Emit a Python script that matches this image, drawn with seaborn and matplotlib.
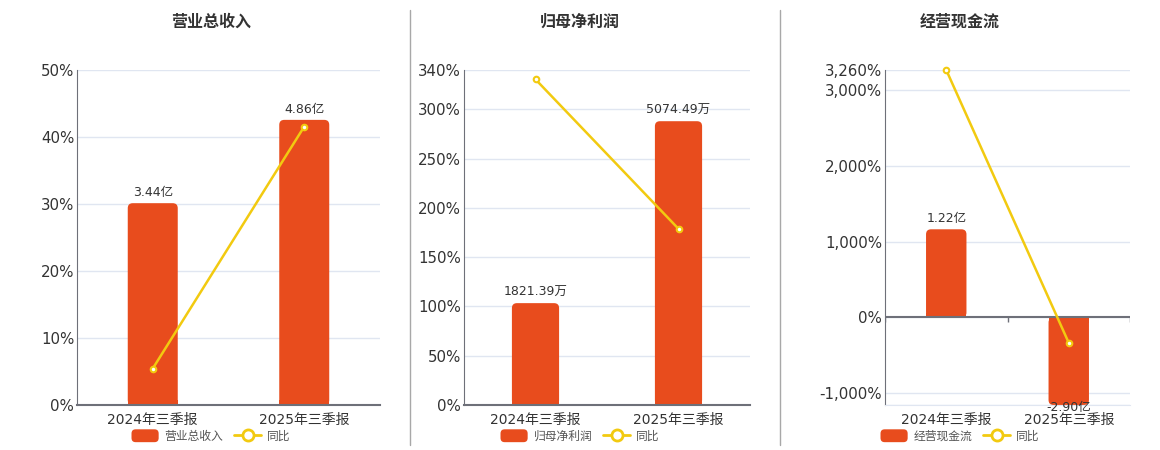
import numpy as np
import matplotlib
matplotlib.use("Agg")
import matplotlib.pyplot as plt
import seaborn as sns
from matplotlib.patches import FancyBboxPatch, Rectangle
from matplotlib.lines import Line2D
from matplotlib.legend_handler import HandlerPatch
from matplotlib.ticker import FuncFormatter
from matplotlib.transforms import IdentityTransform

# ---- data ----
periods = ["2024年三季报", "2025年三季报"]

titles = ["营业总收入", "归母净利润", "经营现金流"]
units = ["亿", "万", "亿"]

revenue = [3.44, 4.86]          # 亿
revenue_yoy = [5.44, 41.56]     # %

profit = [1821.39, 5074.49]     # 万
profit_yoy = [330.5, 178.8]     # %

cashflow = [1.22, -2.90]        # 亿
cashflow_yoy = [3259.8, -334.0] # %

bar_values = [revenue, profit, cashflow]
yoy_values = [revenue_yoy, profit_yoy, cashflow_yoy]

# ---- layout / style ----
pct_limits = [(0, 50), (0, 340), (-1153, 3260)]
pct_ticks = [[0, 10, 20, 30, 40, 50],
             [0, 50, 100, 150, 200, 250, 300, 340],
             [-1000, 0, 1000, 2000, 3000, 3260]]
bar_limits = [(0, 5.71), (0, 5990), (-1.21, 3.423)]
axes_px = [(77, 380), (464, 750), (885, 1130)]
centers = [211, 580, 960]

W, H = 1160, 450
TOP, BOTTOM = 70, 405
BAR_C = "#E84C1D"
LINE_C = "#F2CA10"
GRID_C = "#E0E6F1"
AXIS_C = "#6E7079"
TEXT_C = "#333333"

sns.set_style("white")
plt.rcParams["font.family"] = ["DejaVu Sans", "Noto Sans CJK SC"]

fig = plt.figure(figsize=(W / 100, H / 100), dpi=100)


def rounded_handle(legend, orig_handle, xdescent, ydescent, width, height, fontsize):
    return FancyBboxPatch((-xdescent, -ydescent), width, height,
                          boxstyle="round,pad=0,rounding_size=3")


def round_bars(ax, color):
    # swap plain rectangles for ones with rounded outer corners (display space)
    bx0, by0, bx1, by1 = ax.bbox.extents
    zero = ax.transData.transform((0, 0))[1]
    for p in list(ax.patches):
        x, y = p.get_x(), p.get_y()
        w, h = p.get_width(), p.get_height()
        (x0, ya), (x1, yb) = ax.transData.transform([(x, y), (x + w, y + h)])
        ylo, yhi = max(min(ya, yb), by0), min(max(ya, yb), by1)
        p.set_visible(False)
        r = 5
        art = FancyBboxPatch((x0, ylo), x1 - x0, yhi - ylo,
                             boxstyle=f"round,pad=0,rounding_size={r}",
                             transform=IdentityTransform(), fc=color, ec="none",
                             zorder=1.5)
        fig.add_artist(art)
        # square corners on the baseline side
        if yhi > zero + 0.5:
            sq = Rectangle((x0, zero), x1 - x0, min(r, yhi - zero),
                           transform=IdentityTransform(), fc=color, ec="none",
                           zorder=1.5)
        else:
            sq = Rectangle((x0, zero - min(r, zero - ylo)), x1 - x0, min(r, zero - ylo),
                           transform=IdentityTransform(), fc=color, ec="none",
                           zorder=1.5)
        fig.add_artist(sq)


for k in range(3):
    l, r = axes_px[k]
    ax = fig.add_axes([l / W, 1 - BOTTOM / H, (r - l) / W, (BOTTOM - TOP) / H])
    ax2 = ax.twinx()

    # bars on hidden secondary axis
    sns.barplot(x=periods, y=bar_values[k], ax=ax2, color=BAR_C,
                saturation=1, width=0.33, linewidth=0)
    ax2.set_ylim(*bar_limits[k])
    lo_p, hi_p = pct_limits[k]
    lo_b, hi_b = bar_limits[k]
    grid_b = [lo_b + (t - lo_p) * (hi_b - lo_b) / (hi_p - lo_p) for t in pct_ticks[k]]
    if k == 2:
        grid_b = grid_b + [lo_b]
    ax2.set_yticks(grid_b)
    ax2.yaxis.grid(True, color=GRID_C, linewidth=1)
    ax2.tick_params(axis="y", length=0, labelright=False)
    for s in ax2.spines.values():
        s.set_visible(False)
    ax2.set_axisbelow(True)

    # yoy line on main axis
    sns.pointplot(x=periods, y=yoy_values[k], ax=ax, color=LINE_C,
                  markers="o", linewidth=1.8, markersize=4,
                  markerfacecolor="white", markeredgecolor=LINE_C,
                  markeredgewidth=1.5, clip_on=False)
    ax.set_ylim(*pct_limits[k])
    ax.set_yticks(pct_ticks[k])
    ax.yaxis.set_major_formatter(FuncFormatter(lambda v, _: f"{v:,.0f}%"))
    ax.set_xlim(-0.5, 1.5)
    ax2.set_xlim(-0.5, 1.5)
    ax.set_zorder(2)
    ax2.set_zorder(1)
    ax.patch.set_visible(False)
    ax.grid(False)

    # bar value labels, placed in bar units but drawn on the top axis
    for i, v in enumerate(bar_values[k]):
        if v >= 0:
            ax.annotate(f"{v:.2f}{units[k]}", (i, v), xycoords=ax2.transData,
                        xytext=(0, 3), textcoords="offset points",
                        ha="center", va="bottom", fontsize=9, color=TEXT_C)
        else:
            ax.annotate(f"{v:.2f}{units[k]}", (i, max(v, lo_b)),
                        xycoords=ax2.transData, xytext=(0, 3),
                        textcoords="offset points", ha="center", va="top",
                        fontsize=9, color=TEXT_C, annotation_clip=False)

    ax.tick_params(axis="y", length=0, labelsize=10.8, labelcolor=TEXT_C, pad=2)
    ax.tick_params(axis="x", which="major", length=0, labelsize=10,
                   labelcolor=TEXT_C, pad=6)
    ax.set_xticks([-0.5, 0.5, 1.5], minor=True)
    ax.set_xlabel("")
    ax.set_ylabel("")
    ax.spines["top"].set_visible(False)
    ax.spines["right"].set_visible(False)
    ax.spines["left"].set_color(AXIS_C)
    if k < 2:
        ax.spines["bottom"].set_color(AXIS_C)
        ax.spines["bottom"].set_linewidth(1.5)
        ax.tick_params(axis="x", which="minor", length=5, color=AXIS_C, width=1)
    else:
        ax.spines["bottom"].set_color(GRID_C)
        ax.tick_params(axis="x", which="minor", length=0)
        ax.axhline(0, color=AXIS_C, linewidth=1.5, zorder=1)
        tick_len = 5 * (hi_p - lo_p) / (BOTTOM - TOP)
        ax.vlines([-0.5, 0.5, 1.5], -tick_len, 0, color=AXIS_C, linewidth=1)

    round_bars(ax2, BAR_C)

    fig.text(centers[k] / W, 1 - 22 / H, titles[k], ha="center", va="center",
             fontsize=11.5, fontweight="bold", color=TEXT_C)

    handles = [FancyBboxPatch((0, 0), 1, 1, fc=BAR_C, ec="none"),
               Line2D([], [], color=LINE_C, linewidth=2, marker="o", markersize=8,
                      markerfacecolor="white", markeredgecolor=LINE_C,
                      markeredgewidth=2)]
    ax.legend(handles, [titles[k], "同比"], loc="center",
              bbox_to_anchor=(centers[k] / W, 1 - 436 / H),
              bbox_transform=fig.transFigure, ncol=2, frameon=False,
              fontsize=8.5, labelcolor="#555555", handlelength=2.3,
              handleheight=1.3, handletextpad=0.5, columnspacing=0.9,
              handler_map={FancyBboxPatch: HandlerPatch(patch_func=rounded_handle)})

for xd in (410, 780):
    fig.add_artist(Line2D([xd / W, xd / W], [1 - 10 / H, 1 - 445 / H],
                          color="#A8A8A8", linewidth=1))

fig.savefig("out.png", dpi=100)
